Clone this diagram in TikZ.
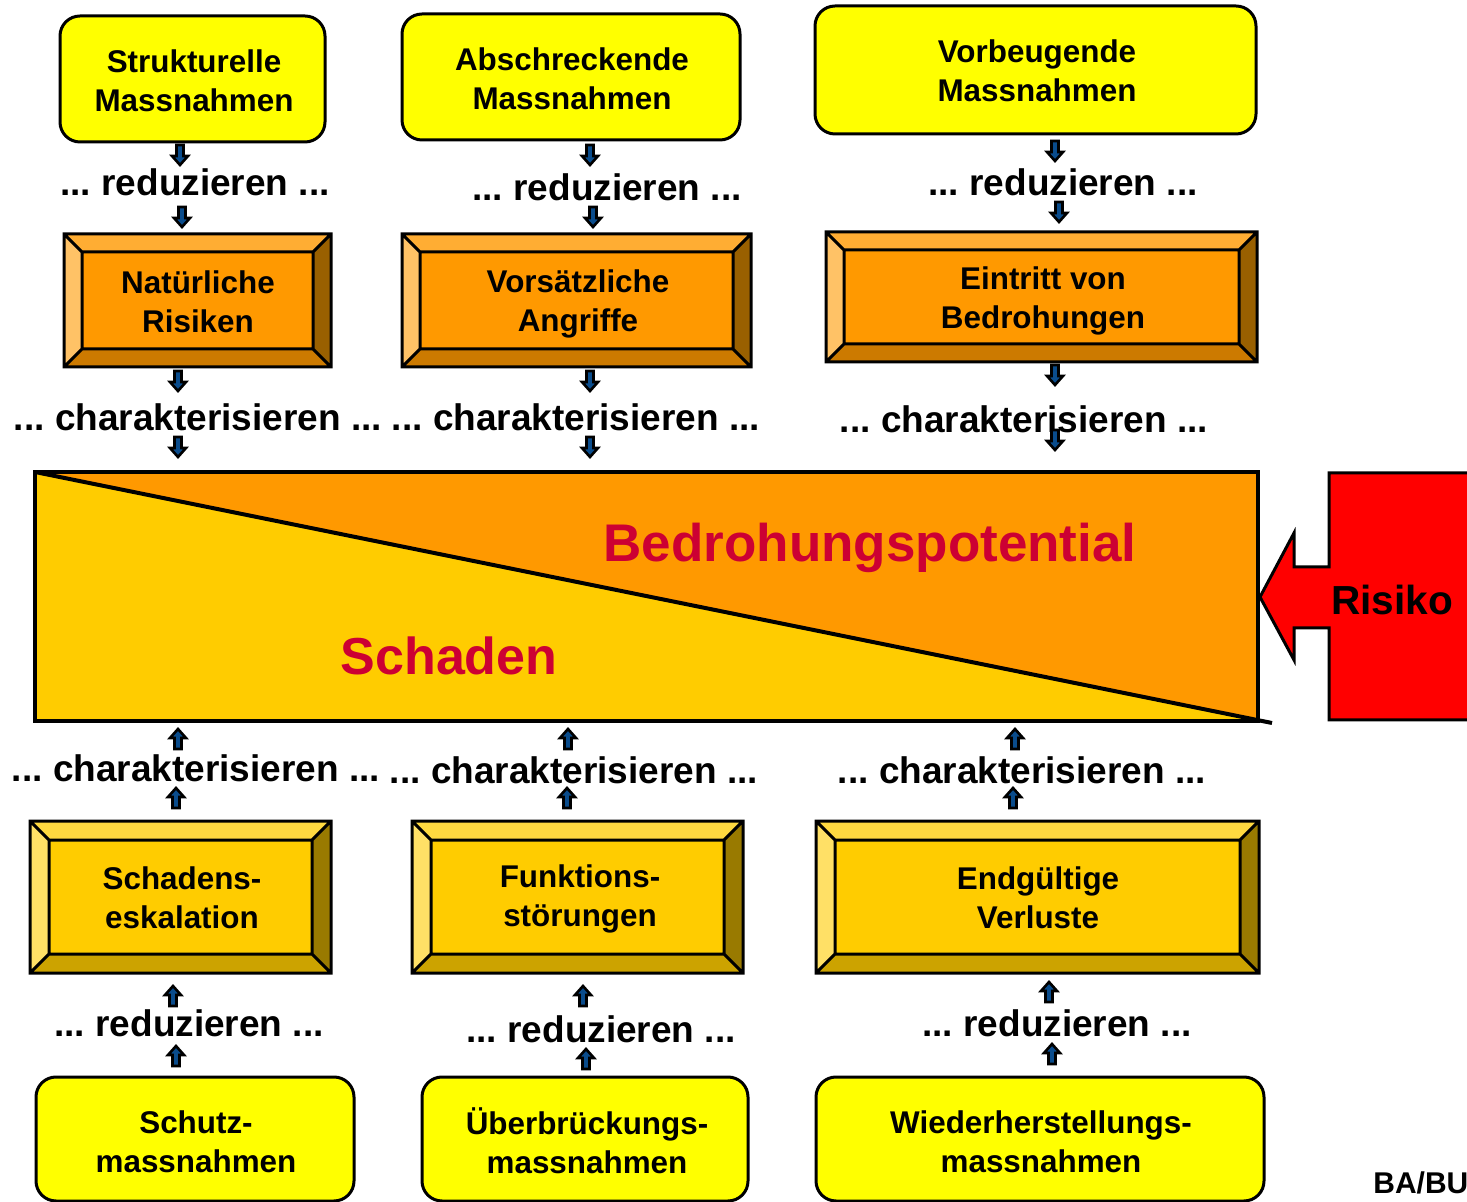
\documentclass[tikz,border=0pt]{standalone}
\usepackage{fontspec}
\setmainfont{Liberation Sans}
\frenchspacing
\definecolor{boxyellow}{HTML}{FFFF00}
\definecolor{obase}{HTML}{FF9900}
\definecolor{otop}{HTML}{FFAD33}
\definecolor{oleft}{HTML}{FFC266}
\definecolor{oright}{HTML}{996000}
\definecolor{obot}{HTML}{CC7A00}
\definecolor{ybase}{HTML}{FFCC00}
\definecolor{ytop}{HTML}{FFD940}
\definecolor{yleft}{HTML}{FFE066}
\definecolor{yright}{HTML}{997A00}
\definecolor{ybot}{HTML}{CCA300}
\definecolor{arrblue}{HTML}{0A4C8C}
\definecolor{crimson}{HTML}{CC0033}
\definecolor{risred}{HTML}{FF0000}
\tikzset{
  roundbox/.style={draw=black, line width=1.5pt, fill=boxyellow, rounded corners=10pt,
     align=center, font=\bfseries\fontsize{15.7}{19.5}\selectfont, inner sep=0pt},
  bevline/.style={draw=black, line width=1.5pt, line join=miter},
  bevtext/.style={align=center, font=\bfseries\fontsize{15.7}{19.5}\selectfont, inner sep=0pt},
  verb/.style={font=\bfseries\fontsize{18.5}{22}\selectfont, inner sep=0pt},
  blockarr/.style={fill=arrblue, draw=black, line width=1.3pt, line join=miter},
  bigline/.style={draw=black, line width=2pt}
}
% bevelled box: x1,y1,x2,y2,prefix,bevel
\newcommand\bevbox[6]{%
  \fill[#5base] (#1,#2) rectangle (#3,#4);
  \fill[#5top] (#1,#2) -- (#3,#2) -- ({#3-#6},{#2+#6}) -- ({#1+#6},{#2+#6}) -- cycle;
  \fill[#5bot] (#1,#4) -- (#3,#4) -- ({#3-#6},{#4-#6}) -- ({#1+#6},{#4-#6}) -- cycle;
  \fill[#5left] (#1,#2) -- ({#1+#6},{#2+#6}) -- ({#1+#6},{#4-#6}) -- (#1,#4) -- cycle;
  \fill[#5right] (#3,#2) -- ({#3-#6},{#2+#6}) -- ({#3-#6},{#4-#6}) -- (#3,#4) -- cycle;
  \draw[bevline] (#1,#2) rectangle (#3,#4) ({#1+#6},{#2+#6}) rectangle ({#3-#6},{#4-#6})
     (#1,#2) -- ({#1+#6},{#2+#6}) (#3,#2) -- ({#3-#6},{#2+#6})
     (#1,#4) -- ({#1+#6},{#4-#6}) (#3,#4) -- ({#3-#6},{#4-#6});
}
% small block arrows: x, ytop
\newcommand\downarr[2]{%
  \draw[blockarr] ({#1-3.5},#2) -- ({#1+3.5},#2) -- ({#1+3.5},{#2+11}) -- ({#1+8},{#2+11})
    -- (#1,{#2+20}) -- ({#1-8},{#2+11}) -- ({#1-3.5},{#2+11}) -- cycle;}
\newcommand\uparr[2]{%
  \draw[blockarr] ({#1-3.5},{#2+20}) -- ({#1+3.5},{#2+20}) -- ({#1+3.5},{#2+9}) -- ({#1+8},{#2+9})
    -- (#1,#2) -- ({#1-8},{#2+9}) -- ({#1-3.5},{#2+9}) -- cycle;}
\begin{document}
\begin{tikzpicture}[x=0.5pt,y=-0.5pt]
\useasboundingbox (0,0) rectangle (1467,1202);
% ---------- top row ----------
\node[roundbox, minimum width=132.5pt, minimum height=63pt] (struk) at (192.5,79) {};
\node[bevtext] (strukt) at (194,81) {Strukturelle\\Massnahmen};
\node[roundbox, minimum width=169pt, minimum height=63pt] (absch) at (571,77) {};
\node[bevtext] (abscht) at (572,79) {Abschreckende\\Massnahmen};
\node[roundbox, minimum width=220.5pt, minimum height=64pt] (vorb) at (1035.5,70) {};
\node[bevtext] (vorbt) at (1037,71) {Vorbeugende\\Massnahmen};

\downarr{180}{145}
\node[verb] (red1) at (195,182) {... reduzieren ...};
\downarr{182}{207}
\downarr{590}{145}
\node[verb] (red2) at (607,187) {... reduzieren ...};
\downarr{593}{207}
\downarr{1055}{141}
\node[verb] (red3) at (1063,182) {... reduzieren ...};
\downarr{1059}{202}

% ---------- orange bevel boxes ----------
\bevbox{64}{234}{331}{367}{o}{18}
\node[bevtext] (nat) at (198,302) {Natürliche\\Risiken};
\bevbox{402}{234}{751}{367}{o}{18}
\node[bevtext] (vors) at (578,304) {Vorsätzliche\\Angriffe};
\bevbox{826}{232}{1257}{362}{o}{18}
\node[bevtext] (eint) at (1043,301) {Eintritt von\\Bedrohungen};

\downarr{178}{371}
\node[verb] (char1) at (198,417) {... charakterisieren ...};
\downarr{178}{437}
\downarr{590}{371}
\node[verb] (char2) at (576,417) {... charakterisieren ...};
\downarr{590}{437}
\downarr{1055}{365}
\node[verb] (char3) at (1024,419) {... charakterisieren ...};
\downarr{1055}{430}

% ---------- main rectangle ----------
\coordinate (mnw) at (35,472);
\coordinate (mne) at (1258,472);
\coordinate (mse) at (1258,721);
\coordinate (msw) at (35,721);
\fill[ybase] (mnw) -- (mse) -- (msw) -- cycle;
\fill[obase] (mnw) -- (mne) -- (mse) -- cycle;
\draw[bigline] (mnw) -- (1272,723);
\node[draw=black, line width=2pt, minimum width=611.5pt, minimum height=124.5pt, inner sep=0pt] (main) at (646.5,596.5) {};
\node[font=\bfseries\fontsize{26.5}{30}\selectfont, text=crimson, inner sep=0pt] (bedr) at (870,548) {Bedrohungspotential};
\node[font=\bfseries\fontsize{26}{30}\selectfont, text=crimson, inner sep=0pt] (schad) at (449,656) {Schaden};

% ---------- Risiko arrow ----------
\draw[fill=risred, line width=1.5pt, line join=miter] (1480,473) -- (1329,473) -- (1329,567) -- (1294,567) -- (1294,533)
   -- (main.east |- 0,597) -- (1294,660) -- (1294,628) -- (1329,628) -- (1329,720) -- (1480,720);
\node[font=\bfseries\fontsize{20.3}{24}\selectfont, inner sep=0pt] (risiko) at (1392,600) {Risiko};

% ---------- lower part ----------
\uparr{178}{729}
\node[verb] (char4) at (196,768) {... charakterisieren ...};
\uparr{176}{788}
\uparr{568}{729}
\node[verb] (char5) at (574,770) {... charakterisieren ...};
\uparr{567}{788}
\uparr{1015}{729}
\node[verb] (char6) at (1022,770) {... charakterisieren ...};
\uparr{1013}{788}

\bevbox{30}{821}{331}{973}{y}{19}
\node[bevtext] (schesk) at (182,898) {Schadens-\\eskalation};
\bevbox{412}{821}{743}{973}{y}{19}
\node[bevtext] (funk) at (580,899) {Funktions-\\störungen};
\bevbox{816}{821}{1259}{973}{y}{19}
\node[bevtext] (endg) at (1038,898) {Endgültige\\Verluste};

\uparr{173}{986}
\node[verb] (red4) at (189,1023) {... reduzieren ...};
\uparr{176}{1046}
\uparr{583}{986}
\node[verb] (red5) at (601,1029) {... reduzieren ...};
\uparr{586}{1049}
\uparr{1049}{982}
\node[verb] (red6) at (1057,1023) {... reduzieren ...};
\uparr{1052}{1044}

\node[roundbox, minimum width=159pt, minimum height=62pt] (schutz) at (195,1139) {};
\node[bevtext] (schutzt) at (196,1142) {Schutz-\\massnahmen};
\node[roundbox, minimum width=163pt, minimum height=62pt] (uebr) at (585,1139) {};
\node[bevtext] (uebrt) at (587,1141) {Überbrückungs-\\massnahmen};
\node[roundbox, minimum width=224pt, minimum height=62pt] (wied) at (1040,1139) {};
\node[bevtext] (wiedt) at (1041,1142) {Wiederherstellungs-\\massnahmen};

\node[font=\bfseries\fontsize{15}{17}\selectfont, anchor=west, inner sep=0pt] (babu) at (1373,1183) {BA/BU};
\end{tikzpicture}
\end{document}
